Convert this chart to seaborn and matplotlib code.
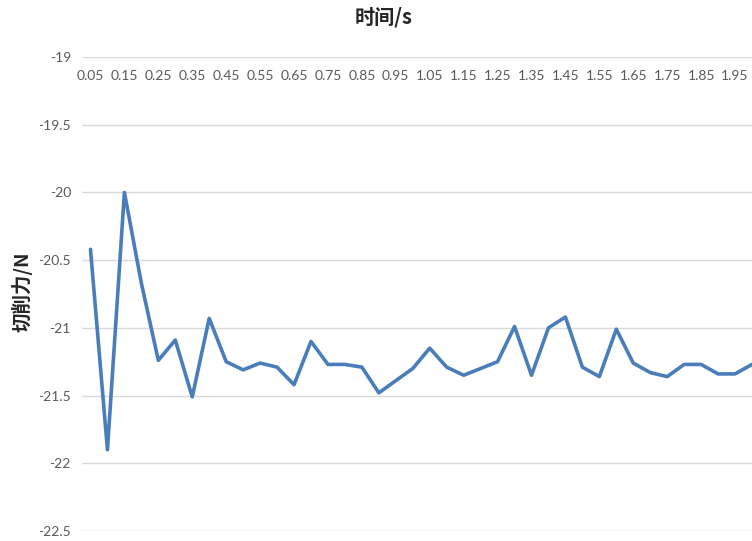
import pandas as pd
import seaborn as sns
import matplotlib
import matplotlib.pyplot as plt

matplotlib.use('Agg')

# time points (s) and cutting force (N)
times = [0.05, 0.10, 0.15, 0.20, 0.25, 0.30, 0.35, 0.40, 0.45, 0.50,
         0.55, 0.60, 0.65, 0.70, 0.75, 0.80, 0.85, 0.90, 0.95, 1.00,
         1.05, 1.10, 1.15, 1.20, 1.25, 1.30, 1.35, 1.40, 1.45, 1.50,
         1.55, 1.60, 1.65, 1.70, 1.75, 1.80, 1.85, 1.90, 1.95, 2.00]
force = [-20.42, -21.90, -20.00, -20.67, -21.24, -21.09, -21.51, -20.93, -21.25, -21.31,
         -21.26, -21.29, -21.42, -21.10, -21.27, -21.27, -21.29, -21.48, -21.39, -21.30,
         -21.15, -21.29, -21.35, -21.30, -21.25, -20.99, -21.35, -21.00, -20.92, -21.29,
         -21.36, -21.01, -21.26, -21.33, -21.36, -21.27, -21.27, -21.34, -21.34, -21.27]
y_ticks = [-19, -19.5, -20, -20.5, -21, -21.5, -22, -22.5]

df = pd.DataFrame({"idx": range(len(times)), "time": times, "force": force})

sns.set_style("white")
plt.rcParams['font.family'] = ['Lato', 'Noto Sans CJK SC', 'DejaVu Sans']

fig = plt.figure(figsize=(7.52, 5.41), dpi=100)
ax = fig.add_axes([82 / 752, 1 - 531 / 541, 1 - 82 / 752, (531 - 57) / 541])

sns.lineplot(data=df, x="idx", y="force", ax=ax, color="#4A7EBB", linewidth=2.6)

ax.set_xlim(-0.5, 39.0)
ax.set_ylim(-22.5, -19)
ax.set_yticks(y_ticks)
ax.set_yticklabels([f"{v:g}" for v in y_ticks])

label_idx = list(range(0, len(times), 2))
ax.set_xticks(label_idx)
ax.set_xticklabels([f"{times[i]:.2f}" for i in label_idx])
ax.xaxis.set_ticks_position('top')
ax.tick_params(axis='x', length=0, pad=-18, labelsize=10, labelcolor="#595959")
ax.tick_params(axis='y', length=0, pad=8, labelsize=10, labelcolor="#595959")

ax.grid(axis='y', color="#D9D9D9", linewidth=1)
ax.grid(axis='x', visible=False)
for s in ax.spines.values():
    s.set_visible(False)
ax.set_xlabel("")
ax.set_ylabel("")

fig.text(384 / 752, 1 - 17 / 541, "时间/s", ha='center', va='center',
         fontsize=14.5, fontweight='bold', family=['Noto Sans CJK SC', 'DejaVu Sans'])
fig.text(22 / 752, 1 - 292 / 541, "切削力/N", ha='center', va='center', rotation=90,
         fontsize=14, fontweight='bold', family=['Noto Sans CJK SC', 'DejaVu Sans'])

fig.savefig("out.png", dpi=100)
